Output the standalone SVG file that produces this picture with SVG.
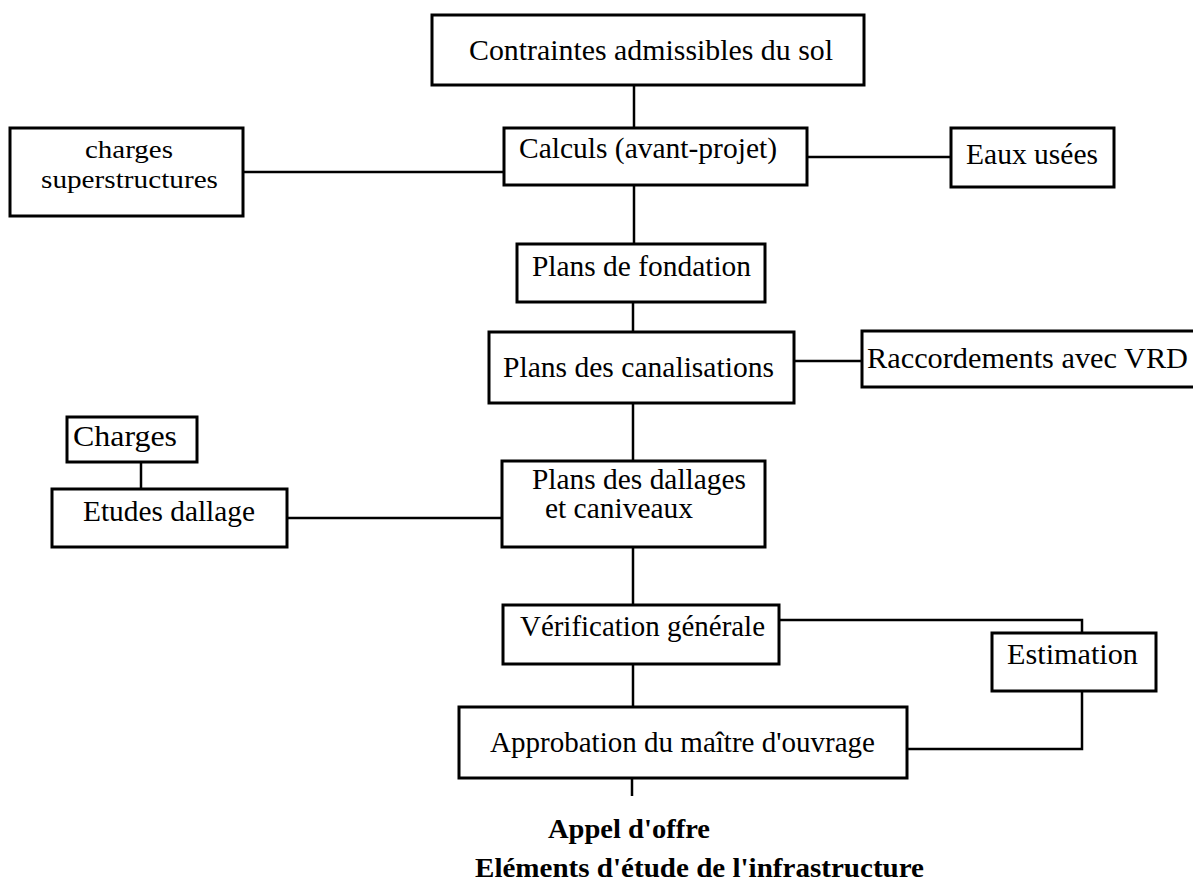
<svg xmlns="http://www.w3.org/2000/svg" width="1193" height="882" viewBox="0 0 1193 882">
  <style>
    .box { fill: #fff; stroke: #000; stroke-width: 3; }
    .lbl { font-family: "Liberation Serif", "Times New Roman", serif; font-size: 29px; fill: #000; }
    .lbl.tight { font-size: 26px; }
    .ttl { font-family: "Liberation Serif", "Times New Roman", serif; font-size: 28px; font-weight: bold; fill: #000; }
    #connectors line, #connectors polyline { stroke: #000; stroke-width: 2.5; fill: none; }
  </style>
  <rect width="1193" height="882" fill="#fff"/>

  <!-- connectors -->
  <g id="connectors">
    <line x1="634" y1="85" x2="634" y2="128"/>
    <line x1="243" y1="172" x2="504" y2="172"/>
    <line x1="807" y1="157" x2="951" y2="157"/>
    <line x1="634" y1="185" x2="634" y2="244"/>
    <line x1="633" y1="302" x2="633" y2="332"/>
    <line x1="794" y1="361" x2="862" y2="361"/>
    <line x1="633" y1="403" x2="633" y2="461"/>
    <line x1="141" y1="462" x2="141" y2="489"/>
    <line x1="287" y1="518" x2="502" y2="518"/>
    <line x1="633" y1="547" x2="633" y2="605"/>
    <line x1="633" y1="664" x2="633" y2="707"/>
    <polyline points="779,620 1082,620 1082,633"/>
    <polyline points="1082,691 1082,749 907,749"/>
    <line x1="632" y1="778" x2="632" y2="796"/>
  </g>

  <g id="contraintes">
    <rect class="box" x="432" y="15" width="432" height="70"/>
    <text class="lbl" x="469" y="60" textLength="364" lengthAdjust="spacingAndGlyphs">Contraintes admissibles du sol</text>
  </g>

  <g id="calculs">
    <rect class="box" x="504" y="128" width="303" height="57"/>
    <text class="lbl" x="519" y="158" textLength="258" lengthAdjust="spacingAndGlyphs">Calculs (avant-projet)</text>
  </g>

  <g id="charges-superstructures">
    <rect class="box" x="10" y="128" width="233" height="88"/>
    <text class="lbl tight" x="85" y="158" textLength="88" lengthAdjust="spacingAndGlyphs">charges</text>
    <text class="lbl tight" x="41" y="188" textLength="177" lengthAdjust="spacingAndGlyphs">superstructures</text>
  </g>

  <g id="eaux-usees">
    <rect class="box" x="951" y="128" width="163" height="59"/>
    <text class="lbl" x="966" y="164" textLength="132" lengthAdjust="spacingAndGlyphs">Eaux usées</text>
  </g>

  <g id="plans-fondation">
    <rect class="box" x="517" y="244" width="248" height="58"/>
    <text class="lbl" x="532" y="276" textLength="219" lengthAdjust="spacingAndGlyphs">Plans de fondation</text>
  </g>

  <g id="plans-canalisations">
    <rect class="box" x="489" y="332" width="305" height="71"/>
    <text class="lbl" x="503" y="377" textLength="271" lengthAdjust="spacingAndGlyphs">Plans des canalisations</text>
  </g>

  <g id="raccordements">
    <rect class="box" x="862" y="331" width="340" height="56"/>
    <text class="lbl" x="867" y="368" textLength="321" lengthAdjust="spacingAndGlyphs">Raccordements avec VRD</text>
  </g>

  <g id="charges">
    <rect class="box" x="67" y="417" width="130" height="45"/>
    <text class="lbl" x="73" y="446" textLength="104" lengthAdjust="spacingAndGlyphs">Charges</text>
  </g>

  <g id="etudes-dallage">
    <rect class="box" x="52" y="489" width="235" height="58"/>
    <text class="lbl" x="83" y="521" textLength="172" lengthAdjust="spacingAndGlyphs">Etudes dallage</text>
  </g>

  <g id="plans-dallages">
    <rect class="box" x="502" y="461" width="263" height="86"/>
    <text class="lbl" x="532" y="489" textLength="214" lengthAdjust="spacingAndGlyphs">Plans des dallages</text>
    <text class="lbl" x="545" y="518" textLength="148" lengthAdjust="spacingAndGlyphs">et caniveaux</text>
  </g>

  <g id="verification">
    <rect class="box" x="503" y="605" width="276" height="59"/>
    <text class="lbl" x="520" y="636" textLength="245" lengthAdjust="spacingAndGlyphs">Vérification générale</text>
  </g>

  <g id="estimation">
    <rect class="box" x="992" y="633" width="164" height="58"/>
    <text class="lbl" x="1007" y="664" textLength="131" lengthAdjust="spacingAndGlyphs">Estimation</text>
  </g>

  <g id="approbation">
    <rect class="box" x="459" y="707" width="448" height="71"/>
    <text class="lbl" x="490" y="752" textLength="385" lengthAdjust="spacingAndGlyphs">Approbation du maître d'ouvrage</text>
  </g>

  <g id="appel-offre">
    <text class="ttl" x="548" y="838" textLength="162" lengthAdjust="spacingAndGlyphs">Appel d'offre</text>
  </g>

  <g id="caption">
    <text class="ttl" x="475" y="877" textLength="449" lengthAdjust="spacingAndGlyphs">Eléments d'étude de l'infrastructure</text>
  </g>
</svg>
